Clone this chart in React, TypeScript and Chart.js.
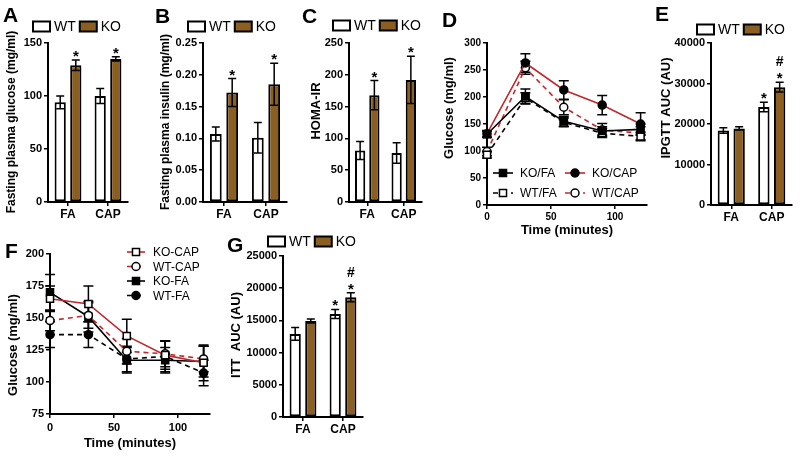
import React, { useEffect, useRef } from 'react';
import { Chart, registerables } from 'chart.js';

Chart.register(...registerables);

const FONT = '"Liberation Sans", Arial, Helvetica, sans-serif';
Chart.defaults.font.family = FONT;
const W = 800;
const H = 458;
const BLACK = '#000000';
const BROWN = '#8B5E22';
const RED = '#C0282E';

// ---------- shared bar categories ----------
const categories = ['FA', 'CAP'];
const groupLabels = ['WT', 'KO'];

// ---------- A: fasting plasma glucose ----------
const glucoseWT = [94, 100];
const glucoseWTErr = [6, 7];
const glucoseKO = [129, 135];
const glucoseKOErr = [5, 2];
const glucoseWTMarks = ['', ''];
const glucoseKOMarks = ['*', '*'];

// ---------- B: fasting plasma insulin ----------
const insulinWT = [0.107, 0.101];
const insulinWTErr = [0.011, 0.024];
const insulinKO = [0.172, 0.185];
const insulinKOErr = [0.022, 0.033];
const insulinWTMarks = ['', ''];
const insulinKOMarks = ['*', '*'];

// ---------- C: HOMA-IR ----------
const homaWT = [81, 77];
const homaWTErr = [14, 16];
const homaKO = [168, 192];
const homaKOErr = [23, 37];
const homaWTMarks = ['', ''];
const homaKOMarks = ['*', '*'];

// ---------- D: IPGTT time course ----------
const gttTime = [0, 30, 60, 90, 120];
const gttKoFa = [131, 201, 155, 137, 140];
const gttKoFaErr = [6, 14, 9, 8, 10];
const gttKoCap = [132, 263, 213, 185, 150];
const gttKoCapErr = [6, 17, 17, 18, 21];
const gttWtFa = [93, 198, 153, 133, 127];
const gttWtFaErr = [6, 10, 8, 8, 8];
const gttWtCap = [99, 254, 181, 139, 133];
const gttWtCapErr = [8, 12, 14, 12, 12];
const gttLabels = ['KO/FA', 'KO/CAP', 'WT/FA', 'WT/CAP'];

// ---------- E: IPGTT AUC ----------
const ipgttWT = [18400, 24200];
const ipgttWTErr = [700, 1200];
const ipgttKO = [18900, 29100];
const ipgttKOErr = [400, 1200];
const ipgttWTMarks = ['', '*'];
const ipgttKOMarks = ['', '*#'];

// ---------- F: ITT time course ----------
const ittTime = [0, 30, 60, 90, 120];
const ittKoCap = [165, 161, 136, 121, 115];
const ittKoCapErr = [10, 14, 13, 11, 14];
const ittWtCap = [148, 152, 124, 122, 118];
const ittWtCapErr = [8, 10, 10, 10, 10];
const ittKoFa = [170, 151, 117, 117, 116];
const ittKoFaErr = [14, 12, 10, 10, 12];
const ittWtFa = [137, 137, 118, 120, 107];
const ittWtFaErr = [10, 10, 10, 12, 10];
const ittLabels = ['KO-CAP', 'WT-CAP', 'KO-FA', 'WT-FA'];

// ---------- G: ITT AUC ----------
const ittAucWT = [12900, 16000];
const ittAucWTErr = [1000, 700];
const ittAucKO = [14900, 18600];
const ittAucKOErr = [300, 700];
const ittAucWTMarks = ['', '*'];
const ittAucKOMarks = ['', '*#'];

// ---------- plugins ----------
function drawMarker(ctx: CanvasRenderingContext2D, style: string, x: number, y: number, r: number, fill: string, stroke: string, lw: number) {
  ctx.beginPath();
  if (style === 'rect') {
    const s = r * Math.SQRT1_2;
    ctx.rect(x - s, y - s, 2 * s, 2 * s);
  } else {
    ctx.arc(x, y, r, 0, Math.PI * 2);
  }
  ctx.fillStyle = fill;
  ctx.fill();
  ctx.lineWidth = lw;
  ctx.strokeStyle = stroke;
  ctx.stroke();
}

function drawErrors(chart: any, opts: any) {
  const ctx = chart.ctx;
  const cap = opts.cap ?? 4;
  ctx.save();
  ctx.strokeStyle = BLACK;
  ctx.lineWidth = opts.lineWidth ?? 1.5;
  ctx.setLineDash([]);
  chart.data.datasets.forEach((ds: any, i: number) => {
    const errs = ds.errors;
    if (!errs) return;
    const meta = chart.getDatasetMeta(i);
    const ys = chart.scales[meta.yAxisID];
    meta.data.forEach((el: any, j: number) => {
      const raw = ds.data[j];
      const v = typeof raw === 'number' ? raw : raw.y;
      const e = errs[j];
      const x = el.x;
      const yt = ys.getPixelForValue(v + e);
      const yb = ys.getPixelForValue(v - e);
      ctx.beginPath();
      ctx.moveTo(x, yt);
      ctx.lineTo(x, yb);
      ctx.moveTo(x - cap, yt);
      ctx.lineTo(x + cap, yt);
      ctx.moveTo(x - cap, yb);
      ctx.lineTo(x + cap, yb);
      ctx.stroke();
    });
  });
  ctx.restore();
}

function drawMarks(chart: any) {
  const ctx = chart.ctx;
  ctx.save();
  ctx.fillStyle = BLACK;
  ctx.textAlign = 'center';
  ctx.textBaseline = 'alphabetic';
  chart.data.datasets.forEach((ds: any, i: number) => {
    const marks = ds.marks;
    if (!marks) return;
    const meta = chart.getDatasetMeta(i);
    const ys = chart.scales[meta.yAxisID];
    meta.data.forEach((el: any, j: number) => {
      const s: string = marks[j] || '';
      if (!s) return;
      const v = ds.data[j];
      const e = ds.errors ? ds.errors[j] : 0;
      const yt = ys.getPixelForValue(v + e);
      for (let k = 0; k < s.length; k++) {
        const ch = s[k];
        if (ch === '*') {
          ctx.font = `bold 15px ${FONT}`;
          ctx.fillText('*', el.x, yt + 1);
        } else {
          ctx.font = `bold 14px ${FONT}`;
          ctx.fillText(ch, el.x, yt - 16);
        }
      }
    });
  });
  ctx.restore();
}

const errorBarsPlugin = {
  id: 'errorBars',
  beforeDatasetsDraw(chart: any, _a: any, opts: any) {
    if (opts.below) drawErrors(chart, opts);
  },
  afterDatasetsDraw(chart: any, _a: any, opts: any) {
    if (!opts.below) drawErrors(chart, opts);
    drawMarks(chart);
  },
};

const decoPlugin = {
  id: 'deco',
  afterDraw(chart: any, _a: any, opts: any) {
    const ctx: CanvasRenderingContext2D = chart.ctx;
    ctx.save();
    ctx.fillStyle = BLACK;
    if (opts.letter) {
      ctx.font = `bold 21px ${FONT}`;
      ctx.textAlign = 'left';
      ctx.textBaseline = 'alphabetic';
      ctx.fillText(opts.letter.text, opts.letter.x, opts.letter.y);
    }
    if (opts.yTitle) {
      ctx.save();
      ctx.translate(opts.yTitle.x, opts.yTitle.y);
      ctx.rotate(-Math.PI / 2);
      ctx.font = `bold ${opts.yTitle.size || 13}px ${FONT}`;
      ctx.textAlign = 'center';
      ctx.textBaseline = 'middle';
      ctx.fillText(opts.yTitle.text, 0, 0);
      ctx.restore();
    }
    if (opts.boxLegend) {
      const lg = opts.boxLegend;
      let x = lg.x;
      const y = lg.y;
      ctx.font = `14px ${FONT}`;
      ctx.textAlign = 'left';
      ctx.textBaseline = 'middle';
      chart.data.datasets.forEach((ds: any) => {
        ctx.fillStyle = ds.backgroundColor;
        ctx.fillRect(x, y - 5, 17, 10);
        ctx.strokeStyle = BLACK;
        ctx.lineWidth = 2;
        ctx.strokeRect(x, y - 5, 17, 10);
        ctx.fillStyle = BLACK;
        ctx.fillText(ds.label, x + 21, y + 1);
        x += 21 + ctx.measureText(ds.label).width + 4;
      });
    }
    if (opts.lineLegend) {
      const lg = opts.lineLegend;
      ctx.font = `12px ${FONT}`;
      ctx.textAlign = 'left';
      ctx.textBaseline = 'middle';
      lg.items.forEach((it: any, i: number) => {
        const ds = chart.data.datasets[i];
        ctx.save();
        ctx.strokeStyle = ds.borderColor;
        ctx.lineWidth = ds.borderWidth;
        ctx.setLineDash(ds.borderDash || []);
        ctx.beginPath();
        ctx.moveTo(it.x, it.y);
        ctx.lineTo(it.x + lg.sampleW, it.y);
        ctx.stroke();
        ctx.setLineDash([]);
        drawMarker(ctx, ds.pointStyle, it.x + lg.sampleW / 2, it.y, ds.pointRadius, ds.pointBackgroundColor, ds.pointBorderColor, ds.pointBorderWidth);
        ctx.restore();
        ctx.fillStyle = BLACK;
        ctx.fillText(ds.label, it.x + lg.sampleW + lg.textGap, it.y + 1);
      });
    }
    ctx.restore();
  },
};

// ---------- config builders ----------
type Area = { l: number; t: number; r: number; b: number };

function axisCommon() {
  return {
    grid: { drawOnChartArea: false, offset: false, tickLength: 4, color: BLACK, lineWidth: 1.5 },
    border: { display: true, color: BLACK, width: 2 },
  };
}

function makeBarConfig(o: any) {
  const area: Area = o.area;
  return {
    type: 'bar',
    data: {
      labels: categories,
      datasets: [
        { label: groupLabels[0], data: o.wt, errors: o.wtErr, marks: o.wtMarks, backgroundColor: '#ffffff', borderColor: BLACK, borderWidth: 2, borderSkipped: false },
        { label: groupLabels[1], data: o.ko, errors: o.koErr, marks: o.koMarks, backgroundColor: BROWN, borderColor: BLACK, borderWidth: 2, borderSkipped: false },
      ],
    },
    options: {
      responsive: false,
      animation: false,
      events: [],
      layout: { padding: { left: area.l - o.yW, top: area.t, right: W - area.r, bottom: H - area.b - o.xH } },
      datasets: { bar: { categoryPercentage: 0.78, barPercentage: 0.72 } },
      plugins: {
        legend: { display: false },
        tooltip: { enabled: false },
        errorBars: { cap: 4, lineWidth: 1.5 },
        deco: { letter: o.letter, yTitle: o.yTitle, boxLegend: o.legend },
      },
      scales: {
        x: {
          ...axisCommon(),
          ticks: { color: BLACK, font: { size: 12, weight: 'bold' }, padding: 1 },
          afterFit: (s: any) => { s.height = o.xH; },
        },
        y: {
          ...axisCommon(),
          min: o.min,
          max: o.max,
          ticks: { stepSize: o.step, color: BLACK, font: { size: 11, weight: 'bold' }, padding: 2, callback: (v: any) => o.fmt(Number(v)) },
          afterFit: (s: any) => { s.width = o.yW; },
        },
      },
    },
    plugins: [errorBarsPlugin, decoPlugin],
  };
}

function makeLineConfig(o: any) {
  const area: Area = o.area;
  return {
    type: 'line',
    data: {
      datasets: o.series.map((s: any) => ({
        label: s.label,
        data: o.time.map((t: number, i: number) => ({ x: t, y: s.values[i] })),
        errors: s.errs,
        borderColor: s.color,
        borderWidth: 1.6,
        borderDash: s.dash,
        pointStyle: s.style,
        pointRadius: s.style === 'rect' ? 5 : 4,
        pointBackgroundColor: s.filled ? BLACK : '#ffffff',
        pointBorderColor: BLACK,
        pointBorderWidth: 1.5,
        fill: false,
        tension: 0,
        clip: false,
      })),
    },
    options: {
      responsive: false,
      animation: false,
      events: [],
      layout: { padding: { left: area.l - o.yW, top: area.t, right: W - area.r, bottom: H - area.b - o.xH } },
      plugins: {
        legend: { display: false },
        tooltip: { enabled: false },
        errorBars: { cap: 5, lineWidth: 1.5, below: true },
        deco: { letter: o.letter, yTitle: o.yTitle, lineLegend: o.legend },
      },
      scales: {
        x: {
          ...axisCommon(),
          type: 'linear',
          min: o.xMin,
          max: o.xMax,
          ticks: { stepSize: o.xStep, includeBounds: false, color: BLACK, font: { size: o.tickSize, weight: 'bold' }, padding: o.xTickPad },
          title: { display: true, text: o.xTitle, color: BLACK, font: { size: 13, weight: 'bold' }, padding: { top: 0, bottom: 3 } },
          afterFit: (s: any) => { s.height = o.xH; },
        },
        y: {
          ...axisCommon(),
          min: o.yMin,
          max: o.yMax,
          ticks: { stepSize: o.yStep, color: BLACK, font: { size: o.tickSize, weight: 'bold' }, padding: 2 },
          afterFit: (s: any) => { s.width = o.yW; },
        },
      },
    },
    plugins: [errorBarsPlugin, decoPlugin],
  };
}

const intFmt = (v: number) => String(Math.round(v));
const dec2Fmt = (v: number) => v.toFixed(2);

const configs: any[] = [
  makeBarConfig({
    area: { l: 48, t: 43, r: 128, b: 202 }, xH: 22, yW: 40,
    min: 0, max: 150, step: 50, fmt: intFmt,
    wt: glucoseWT, wtErr: glucoseWTErr, wtMarks: glucoseWTMarks,
    ko: glucoseKO, koErr: glucoseKOErr, koMarks: glucoseKOMarks,
    letter: { text: 'A', x: 3, y: 22 },
    yTitle: { text: 'Fasting plasma glucose (mg/ml)', x: 12, y: 122, size: 12 },
    legend: { x: 33, y: 26.5 },
  }),
  makeBarConfig({
    area: { l: 203, t: 43, r: 287, b: 202 }, xH: 22, yW: 40,
    min: 0, max: 0.25, step: 0.05, fmt: dec2Fmt,
    wt: insulinWT, wtErr: insulinWTErr, wtMarks: insulinWTMarks,
    ko: insulinKO, koErr: insulinKOErr, koMarks: insulinKOMarks,
    letter: { text: 'B', x: 155, y: 23 },
    yTitle: { text: 'Fasting plasma insulin (mg/ml)', x: 166, y: 122, size: 12 },
    legend: { x: 188, y: 26.5 },
  }),
  makeBarConfig({
    area: { l: 349, t: 43, r: 422, b: 202 }, xH: 22, yW: 40,
    min: 0, max: 250, step: 50, fmt: intFmt,
    wt: homaWT, wtErr: homaWTErr, wtMarks: homaWTMarks,
    ko: homaKO, koErr: homaKOErr, koMarks: homaKOMarks,
    letter: { text: 'C', x: 302, y: 23 },
    yTitle: { text: 'HOMA-IR', x: 316, y: 111 },
    legend: { x: 333, y: 25.5 },
  }),
  makeLineConfig({
    area: { l: 487, t: 43, r: 647, b: 205 }, xH: 36, yW: 40,
    xMin: 0, xMax: 125, xStep: 50, yMin: 0, yMax: 300, yStep: 25, tickSize: 10, xTickPad: 2,
    time: gttTime,
    xTitle: 'Time (minutes)',
    series: [
      { label: gttLabels[0], values: gttKoFa, errs: gttKoFaErr, color: BLACK, dash: [], style: 'rect', filled: true },
      { label: gttLabels[1], values: gttKoCap, errs: gttKoCapErr, color: RED, dash: [], style: 'circle', filled: true },
      { label: gttLabels[2], values: gttWtFa, errs: gttWtFaErr, color: BLACK, dash: [5, 4], style: 'rect', filled: false },
      { label: gttLabels[3], values: gttWtCap, errs: gttWtCapErr, color: RED, dash: [5, 4], style: 'circle', filled: false },
    ],
    letter: { text: 'D', x: 442, y: 27 },
    yTitle: { text: 'Glucose (mg/ml)', x: 449, y: 108 },
    legend: { sampleW: 20, textGap: 7, items: [{ x: 493, y: 173 }, { x: 565, y: 173 }, { x: 493, y: 193 }, { x: 565, y: 193 }] },
  }),
  makeBarConfig({
    area: { l: 711, t: 43, r: 792, b: 205 }, xH: 22, yW: 40,
    min: 0, max: 40000, step: 10000, fmt: intFmt,
    wt: ipgttWT, wtErr: ipgttWTErr, wtMarks: ipgttWTMarks,
    ko: ipgttKO, koErr: ipgttKOErr, koMarks: ipgttKOMarks,
    letter: { text: 'E', x: 655, y: 21 },
    yTitle: { text: 'IPGTT AUC (AU)', x: 666, y: 108 },
    legend: { x: 697, y: 29.5 },
  }),
  makeLineConfig({
    area: { l: 50, t: 254, r: 210, b: 414 }, xH: 40, yW: 40,
    xMin: 0, xMax: 125, xStep: 50, yMin: 75, yMax: 200, yStep: 25, tickSize: 11, xTickPad: 3,
    time: ittTime,
    xTitle: 'Time (minutes)',
    series: [
      { label: ittLabels[0], values: ittKoCap, errs: ittKoCapErr, color: RED, dash: [], style: 'rect', filled: false },
      { label: ittLabels[1], values: ittWtCap, errs: ittWtCapErr, color: RED, dash: [5, 4], style: 'circle', filled: false },
      { label: ittLabels[2], values: ittKoFa, errs: ittKoFaErr, color: BLACK, dash: [], style: 'rect', filled: true },
      { label: ittLabels[3], values: ittWtFa, errs: ittWtFaErr, color: BLACK, dash: [5, 4], style: 'circle', filled: true },
    ],
    letter: { text: 'F', x: 5, y: 258 },
    yTitle: { text: 'Glucose (mg/ml)', x: 13, y: 345 },
    legend: { sampleW: 18, textGap: 8, items: [{ x: 127, y: 252 }, { x: 127, y: 266.5 }, { x: 127, y: 281 }, { x: 127, y: 295.5 }] },
  }),
  makeBarConfig({
    area: { l: 283, t: 256, r: 363, b: 417 }, xH: 22, yW: 40,
    min: 0, max: 25000, step: 5000, fmt: intFmt,
    wt: ittAucWT, wtErr: ittAucWTErr, wtMarks: ittAucWTMarks,
    ko: ittAucKO, koErr: ittAucKOErr, koMarks: ittAucKOMarks,
    letter: { text: 'G', x: 227, y: 252 },
    yTitle: { text: 'ITT  AUC (AU)', x: 236, y: 335 },
    legend: { x: 268, y: 241.5 },
  }),
];

function ChartLayer({ config }: { config: any }) {
  const ref = useRef<HTMLCanvasElement>(null);
  useEffect(() => {
    const chart = new Chart(ref.current as HTMLCanvasElement, config);
    return () => chart.destroy();
  }, [config]);
  return (
    <canvas
      ref={ref}
      width={W}
      height={H}
      style={{ position: 'absolute', left: 0, top: 0, width: W, height: H }}
    />
  );
}

export default function App() {
  return (
    <div style={{ position: 'absolute', left: 0, top: 0, width: W, height: H, background: '#ffffff', overflow: 'hidden' }}>
      {configs.map((c, i) => (
        <ChartLayer key={i} config={c} />
      ))}
    </div>
  );
}
